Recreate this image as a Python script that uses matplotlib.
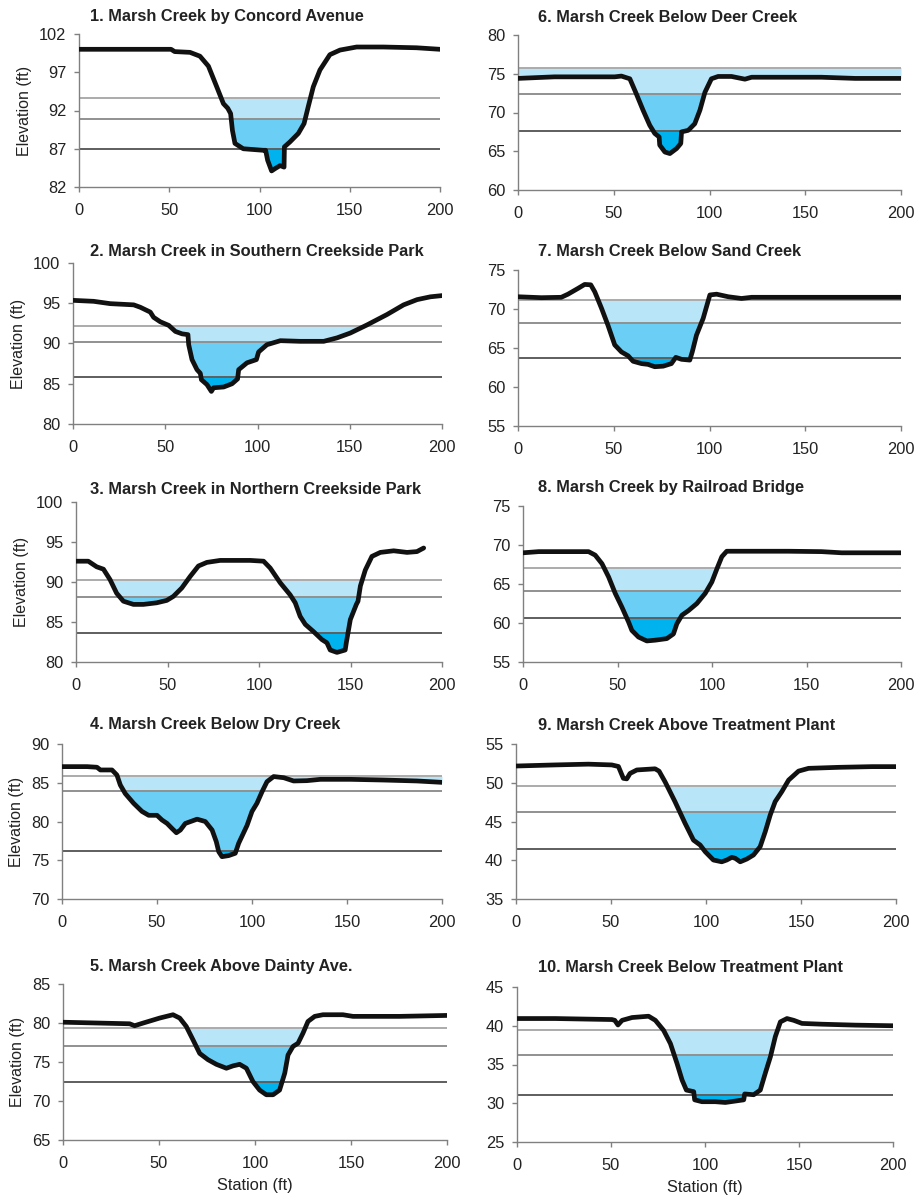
import numpy as np
import matplotlib
matplotlib.use("Agg")
import matplotlib.pyplot as plt

plt.rcParams['font.family'] = ['Liberation Sans', 'DejaVu Sans']

titles = [
    "1. Marsh Creek by Concord Avenue",
    "2. Marsh Creek in Southern Creekside Park",
    "3. Marsh Creek in Northern Creekside Park",
    "4. Marsh Creek Below Dry Creek",
    "5. Marsh Creek Above Dainty Ave.",
    "6. Marsh Creek Below Deer Creek",
    "7. Marsh Creek Below Sand Creek",
    "8. Marsh Creek by Railroad Bridge",
    "9. Marsh Creek Above Treatment Plant",
    "10. Marsh Creek Below Treatment Plant",
]

# y axis range per panel (min, max, step)
y_ranges = [(82, 102, 5), (80, 100, 5), (80, 100, 5), (70, 90, 5), (65, 85, 5),
            (60, 80, 5), (55, 75, 5), (55, 75, 5), (35, 55, 5), (25, 45, 5)]

# cross section profiles (station ft, elevation ft)
station_1 = [0, 51, 53, 61.5, 67, 71.7, 76.3, 80, 82.4, 84, 85, 86.4, 91, 102, 103.4, 104.5,
             106.7, 108.6, 111.4, 113.6, 113.8, 116.9, 121.5, 124.7, 127, 129.8, 133.5, 139,
             144.6, 153.8, 168.6, 187, 200]
elev_1 = [100.0, 100.0, 99.7, 99.6, 99.1, 97.8, 95.1, 92.9, 92.3, 91.6, 89.4, 87.7, 87.0, 86.8,
          86.8, 85.5, 84.1, 84.4, 84.8, 84.6, 87.25, 87.9, 89.0, 90.3, 92.5, 95.1, 97.3, 99.3,
          99.9, 100.3, 100.3, 100.2, 100.0]

station_2 = [0, 11.2, 20.2, 32.9, 36.5, 41.9, 43.7, 47.3, 51.9, 55.5, 59.1, 62.3, 62.7, 64.5,
             67.2, 69, 69.6, 72.6, 75, 76.2, 81.7, 86.2, 89.2, 89.8, 94.3, 99.4, 100.6, 105.1,
             112.4, 123.2, 135.9, 143.1, 150.3, 159.3, 170.2, 179.2, 186.5, 193.7, 200]
elev_2 = [95.36, 95.24, 94.95, 94.8, 94.5, 93.9, 93.25, 92.7, 92.25, 91.5, 91.2, 91.1, 89.85,
          88.0, 86.75, 86.3, 85.5, 84.9, 84.05, 84.5, 84.6, 85.0, 85.6, 86.75, 87.6, 88.0,
          88.95, 89.85, 90.35, 90.27, 90.27, 90.7, 91.3, 92.3, 93.6, 94.8, 95.45, 95.8, 95.95]

station_3 = [0, 6.7, 11.3, 15, 18.6, 22.2, 25.9, 31.4, 36.8, 44.1, 49.6, 53.2, 57.8, 62.4,
             66.9, 71.5, 78.8, 95.2, 102.5, 106.1, 111.6, 117, 119.8, 122.5, 125.3, 129.8,
             134.4, 137.1, 138.9, 142.6, 147.1, 147.7, 149.9, 153.2, 154.1, 155.4, 158.1,
             161.7, 166.3, 173.6, 180.9, 186.3, 190]
elev_3 = [92.6, 92.6, 91.9, 91.6, 90.3, 88.6, 87.6, 87.2, 87.2, 87.4, 87.7, 88.2, 89.25, 90.7,
          92.0, 92.45, 92.7, 92.7, 92.6, 91.75, 89.9, 88.4, 87.4, 85.7, 84.7, 83.8, 82.8, 82.4,
          81.5, 81.2, 81.5, 82.4, 85.3, 87.2, 87.6, 89.5, 91.5, 93.2, 93.7, 93.9, 93.7, 93.8,
          94.25]

station_4 = [0, 13.2, 18.4, 20.2, 26.3, 28.9, 30.7, 33.3, 37.7, 42.1, 45.6, 50, 52.6, 55.3,
             57.9, 60.2, 62.3, 64.9, 71.1, 75.4, 79, 81.2, 82.5, 84.2, 87.7, 91.2, 93, 97.4,
             100, 102.6, 105.3, 107.9, 111.4, 116.7, 121.9, 128.9, 136, 151.8, 169.3, 186.8, 200]
elev_4 = [87.08, 87.08, 87.0, 86.65, 86.65, 86.0, 84.7, 83.6, 82.35, 81.3, 80.8, 80.8, 80.2,
          79.75, 79.1, 78.55, 78.9, 79.75, 80.3, 80.0, 78.9, 77.4, 76.1, 75.46, 75.6, 75.9, 77.2,
          79.5, 81.3, 82.35, 83.85, 85.14, 85.8, 85.65, 85.23, 85.27, 85.44, 85.44, 85.35,
          85.23, 85.05]

station_5 = [0, 19.1, 34.7, 37.3, 41.7, 50.3, 57.3, 60.8, 64.2, 67.7, 71.2, 75.5, 79.9, 85.1,
             88.5, 92, 95.5, 98.9, 102.4, 105.9, 109.4, 112.8, 115.5, 117.2, 119.8, 122.4, 125,
             127.6, 131.1, 135.4, 145.8, 151, 175.3, 200]
elev_5 = [80.1, 79.99, 79.9, 79.65, 79.99, 80.63, 81.06, 80.63, 79.56, 77.85, 76.1, 75.3, 74.7,
          74.2, 74.5, 74.7, 74.2, 72.5, 71.4, 70.8, 70.8, 71.4, 73.57, 75.9, 77.0, 77.4, 78.7,
          80.2, 80.85, 81.06, 81.06, 80.85, 80.85, 80.97]

station_6 = [0, 19, 50.5, 54, 58.4, 61.8, 65.3, 68.8, 71.4, 73.7, 74, 76.7, 79.3, 82.8, 85,
             85.4, 88.9, 92.3, 95, 97.6, 101, 104.5, 111.5, 118.5, 122, 158.5, 176, 200]
elev_6 = [74.4, 74.6, 74.6, 74.7, 74.35, 72.4, 70.3, 68.35, 67.3, 66.85, 65.8, 64.9, 64.7,
          65.35, 66.0, 67.5, 67.7, 68.55, 70.3, 72.6, 74.35, 74.65, 74.65, 74.3, 74.55, 74.55,
          74.4, 74.4]

station_7 = [0, 12.2, 22.6, 26.1, 31.4, 34.8, 38, 40.1, 43.6, 47, 50.5, 54, 57.5, 60.1, 64.5,
             67.9, 71.4, 75.8, 80.1, 82.4, 85.4, 89.7, 91, 93.2, 96.7, 100.2, 103.7, 109.8,
             116.7, 122, 141, 200]
elev_7 = [71.57, 71.45, 71.5, 71.9, 72.65, 73.15, 73.1, 72.2, 70.1, 67.9, 65.4, 64.5, 64.0,
          63.3, 63.0, 62.9, 62.6, 62.67, 63.0, 63.8, 63.55, 63.45, 64.5, 66.65, 68.8, 71.8,
          71.9, 71.57, 71.35, 71.5, 71.5, 71.5]

station_8 = [0, 8.3, 34.7, 38.2, 41.8, 45.3, 48.8, 52.3, 55.9, 57.6, 61.1, 65.5, 70, 76.1,
             79.6, 81.4, 84.1, 87.6, 92, 96.4, 99.9, 102.6, 105.2, 107.8, 114, 140.4, 158,
             168.6, 200]
elev_8 = [69.0, 69.15, 69.15, 68.7, 67.6, 65.9, 63.8, 62.05, 60.1, 59.05, 58.2, 57.7, 57.8,
          58.0, 58.6, 59.9, 61.0, 61.6, 62.5, 63.8, 65.25, 66.95, 68.5, 69.2, 69.2, 69.2,
          69.15, 69.0, 69.0]

station_9 = [0, 20.5, 38.1, 50.4, 53.9, 56.5, 58.3, 60, 63.6, 73.2, 75.3, 78.5, 83.7, 89,
             93.4, 96.9, 99.6, 103.9, 108.3, 110.9, 113.6, 115.4, 118, 121.5, 125, 128.5, 131.2,
             133.8, 136.4, 139.9, 143.5, 148.7, 154, 169.8, 187.4, 200]
elev_9 = [52.16, 52.3, 52.4, 52.3, 52.1, 50.57, 50.5, 51.2, 51.65, 51.8, 51.5, 50.1, 47.55,
          44.76, 42.6, 41.97, 41.1, 40.03, 39.8, 40.03, 40.38, 40.25, 39.8, 40.16, 40.68,
          41.75, 43.7, 45.84, 47.56, 48.85, 50.35, 51.5, 51.86, 51.99, 52.08, 52.08]

station_10 = [0, 20.4, 50.5, 52, 53.7, 55.9, 61.2, 70, 73.6, 78, 81.6, 85.1, 87.8, 90.1, 94,
              94.5, 98.4, 105.5, 110.8, 120.6, 121.1, 125.9, 129.4, 132.1, 134.8, 137.4, 140.1,
              143.6, 147.2, 151.6, 162.2, 180, 200]
elev_10 = [40.93, 40.93, 40.8, 40.7, 40.1, 40.7, 41.06, 41.23, 40.7, 39.4, 37.7, 35.15, 33.0,
           31.7, 31.5, 30.44, 30.2, 30.2, 30.1, 30.44, 31.2, 31.1, 31.7, 33.9, 36.0, 38.6, 40.5,
           40.93, 40.7, 40.3, 40.2, 40.08, 40.0]

# water surface elevations: high, middle, low flow
water_levels = [
    [93.65, 90.95, 87.0],
    [92.2, 90.2, 85.9],
    [90.2, 88.1, 83.6],
    [85.85, 83.9, 76.25],
    [79.4, 77.1, 72.5],
    [75.8, 72.4, 67.6],
    [71.2, 68.15, 63.7],
    [67.1, 64.15, 60.6],
    [49.55, 46.25, 41.5],
    [39.5, 36.2, 31.1],
]

stations = [station_1, station_2, station_3, station_4, station_5,
            station_6, station_7, station_8, station_9, station_10]
elevations = [elev_1, elev_2, elev_3, elev_4, elev_5,
              elev_6, elev_7, elev_8, elev_9, elev_10]

fill_colors = ["#b9e5f8", "#6bcff5", "#00b3ee"]
line_colors = ["#ababab", "#909090", "#5e5e5e"]

# axes boxes in pixels: left, right, top, bottom
W, H = 915, 1199
boxes = [(79, 440, 34, 187), (73, 442, 263, 424), (76, 442, 502, 662),
         (62, 442, 744, 899), (63, 447, 984, 1140),
         (518, 901, 35, 190), (518, 901, 270, 426), (523, 901, 506, 662),
         (516, 896, 744, 899), (517, 893, 987, 1142)]
title_pos = [(90, 17), (90, 252), (90, 489), (90, 725), (90, 967),
             (538, 17), (538, 252), (538, 488), (538, 726), (538, 968)]

fig = plt.figure(figsize=(W / 100, H / 100), dpi=100)

for i in range(10):
    l, r, t, b = boxes[i]
    ax = fig.add_axes([l / W, 1 - b / H, (r - l) / W, (b - t) / H])
    x = np.array(stations[i], dtype=float)
    y = np.array(elevations[i], dtype=float)
    xf = np.linspace(x[0], x[-1], 2000)
    yf = np.interp(xf, x, y)
    for lvl, fc in zip(water_levels[i], fill_colors):
        ax.fill_between(xf, yf, lvl, where=yf < lvl, color=fc, linewidth=0, zorder=1)
    for lvl, lc in zip(water_levels[i], line_colors):
        ax.axhline(lvl, color=lc, lw=1.4, zorder=2)
    ax.plot(x, y, color="#111111", lw=3.4, solid_joinstyle="round",
            solid_capstyle="round", zorder=3)

    lo, hi, step = y_ranges[i]
    ax.set_ylim(lo, hi)
    ax.set_yticks(np.arange(lo, hi + 1, step))
    ax.set_xlim(0, 200)
    ax.set_xticks([0, 50, 100, 150, 200])
    for s in ["top", "right"]:
        ax.spines[s].set_visible(False)
    for s in ["left", "bottom"]:
        ax.spines[s].set_color("#808080")
        ax.spines[s].set_linewidth(1.0)
    ax.tick_params(direction="out", length=3.6, width=1, color="#808080",
                   labelsize=11.8, labelcolor="#222222")
    ax.tick_params(axis="y", pad=5.5)
    ax.tick_params(axis="x", pad=8)
    if i < 5:
        ax.set_ylabel("Elevation (ft)", fontsize=11.5, color="#222222", labelpad=5)
    if i in (4, 9):
        ax.set_xlabel("Station (ft)", fontsize=11.8, color="#222222", labelpad=5)

    tx, ty = title_pos[i]
    fig.text(tx / W, 1 - ty / H, titles[i], fontsize=11.8, fontweight="bold",
             color="#222222", ha="left", va="center")

fig.savefig("out.png", dpi=100)
